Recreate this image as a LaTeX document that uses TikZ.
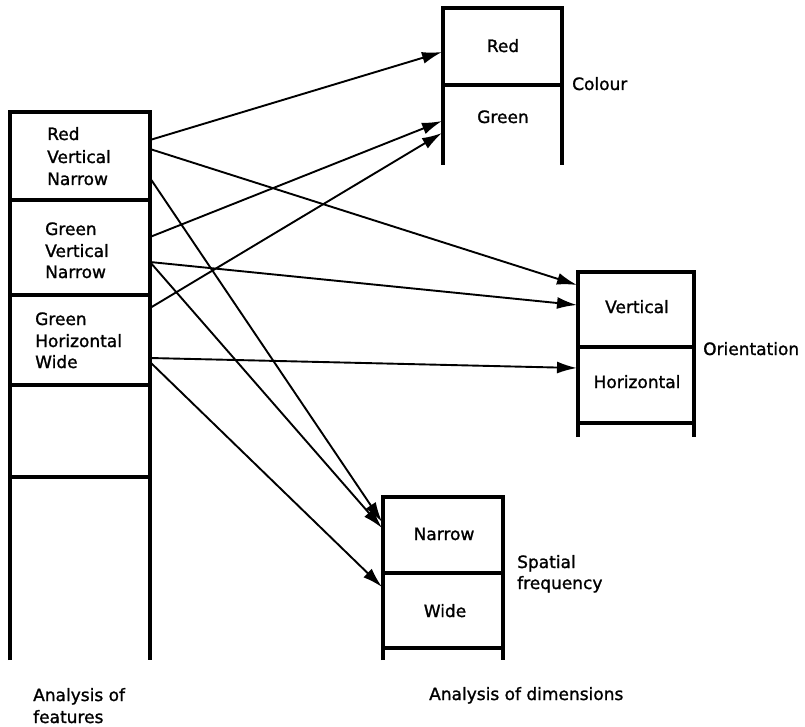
\documentclass[tikz,border=0pt]{standalone}
\usepackage{fontspec}
\setmainfont{DejaVu Sans}[FakeBold=1.3]
\usetikzlibrary{arrows.meta}
\begin{document}
\begin{tikzpicture}[x=1pt,y=-1pt,
  frame/.style={line width=3.2pt},
  link/.style={line width=1.9pt,-{Latex[length=20pt,width=12pt]}},
  lbl/.style={inner sep=0pt,font=\fontsize{17}{22}\selectfont},
  every node/.style={lbl}]
\useasboundingbox (0,0) rectangle (805,727);

% left column: analysis of features (open at the bottom)
\draw[frame] (10,660) -- (10,112) -- (150,112) -- (150,660);
\draw[frame] (10,200) -- (150,200);
\draw[frame] (10,295) -- (150,295);
\draw[frame] (10,385) -- (150,385);
\draw[frame] (10,477) -- (150,477);

% colour store
\draw[frame] (443,165) -- (443,8) -- (562,8) -- (562,165);
\draw[frame] (443,85) -- (562,85);
% orientation store
\draw[frame] (578,437) -- (578,272) -- (694,272) -- (694,437);
\draw[frame] (578,347) -- (694,347);
\draw[frame] (578,423) -- (694,423);
% spatial-frequency store
\draw[frame] (383,660) -- (383,497) -- (503,497) -- (503,660);
\draw[frame] (383,573) -- (503,573);
\draw[frame] (383,648) -- (503,648);

% feature labels
\node[anchor=base west] (f1a) at (47,140) {Red};
\node[anchor=base west] (f1b) at (47,163) {Vertical};
\node[anchor=base west] (f1c) at (47,185) {Narrow};
\node[anchor=base west] (f2a) at (45,235) {Green};
\node[anchor=base west] (f2b) at (45,257) {Vertical};
\node[anchor=base west] (f2c) at (45,278) {Narrow};
\node[anchor=base west] (f3a) at (35,325) {Green};
\node[anchor=base west] (f3b) at (35,347) {Horizontal};
\node[anchor=base west] (f3c) at (35,368) {Wide};

% dimension labels
\node[anchor=base] (dred) at (503,52) {Red};
\node[anchor=base] (dgreen) at (503,123) {Green};
\node[anchor=base] (dvert) at (637,313) {Vertical};
\node[anchor=base] (dhor) at (637,388) {Horizontal};
\node[anchor=base] (dnar) at (444,540) {Narrow};
\node[anchor=base] (dwide) at (445,617) {Wide};

\node[anchor=base west] (tcol) at (572,90) {Colour};
\node[anchor=base west] (tori) at (703,355) {Orientation};
\node[anchor=base west] (tsp1) at (517,568) {Spatial};
\node[anchor=base west] (tsp2) at (517,589) {frequency};

\node[anchor=base west] (tfa) at (33,701) {Analysis of};
\node[anchor=base west] (tfb) at (33,723) {features};
\node[anchor=base west] (tdim) at (429,700) {Analysis of dimensions};

% connector end points on the store edges
\coordinate (o1a) at (150,140);
\coordinate (o1b) at (150,149);
\coordinate (o1c) at (150,178);
\coordinate (o2a) at (150,237);
\coordinate (o2b) at (150,262);
\coordinate (o3a) at (150,308);
\coordinate (o3b) at (150,358);
\coordinate (o3c) at (150,362);
\coordinate (iRed) at (442,52);
\coordinate (iGreenA) at (442,121);
\coordinate (iGreenB) at (442,133);
\coordinate (iVertA) at (577,285);
\coordinate (iVertB) at (577,305);
\coordinate (iHor) at (577,368);
\coordinate (iNarA) at (382,522);
\coordinate (iNarB) at (382,528);
\coordinate (iWide) at (382,587);

\draw[link] (o1a) -- (iRed);
\draw[link] (o1b) -- (iVertA);
\draw[link] (o1c) -- (iNarA);
\draw[link] (o2a) -- (iGreenA);
\draw[link] (o2b) -- (iVertB);
\draw[link] (o2b) -- (iNarB);
\draw[link] (o3a) -- (iGreenB);
\draw[link] (o3b) -- (iHor);
\draw[link] (o3c) -- (iWide);
\end{tikzpicture}
\end{document}
